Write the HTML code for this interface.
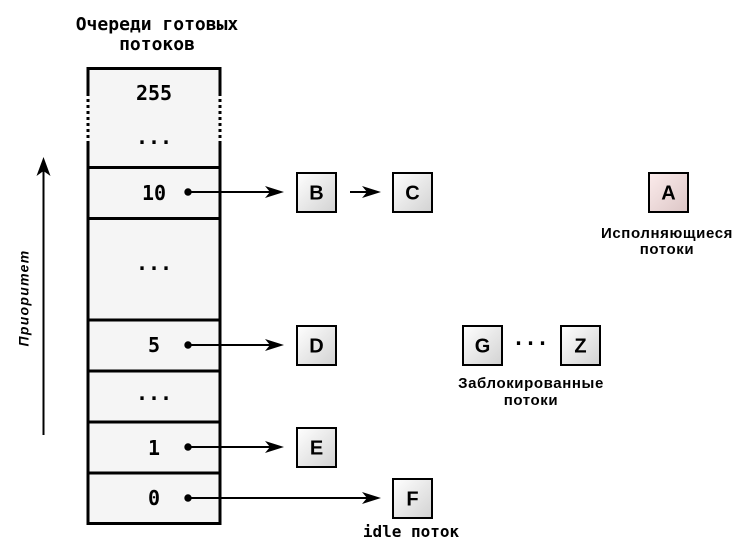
<!DOCTYPE html>
<html><head><meta charset="utf-8"><style>
html,body{margin:0;padding:0;background:#fff;}
svg{display:block;}
.mono{font-family:"DejaVu Sans Mono","Liberation Mono",monospace;font-weight:bold;}
.sans{font-family:"Liberation Sans","DejaVu Sans",sans-serif;}
</style></head><body>
<svg width="752" height="555" viewBox="0 0 752 555" xmlns="http://www.w3.org/2000/svg">
<defs>
<linearGradient id="g" x1="0" y1="0" x2="1" y2="1">
<stop offset="0" stop-color="#ffffff"/><stop offset="1" stop-color="#d2d2d2"/>
</linearGradient>
<linearGradient id="gp" x1="0" y1="0" x2="1" y2="1">
<stop offset="0" stop-color="#fcecec"/><stop offset="1" stop-color="#dcc6c6"/>
</linearGradient>
</defs>

<!-- title -->
<text class="mono" x="157" y="30" font-size="18" text-anchor="middle">Очереди готовых</text>
<text class="mono" x="157" y="50" font-size="18" text-anchor="middle">потоков</text>

<!-- column -->
<rect x="88" y="68.5" width="132" height="455" fill="#f5f5f5"/>
<g stroke="#000" stroke-width="3" fill="none">
<line x1="86.5" y1="68.5" x2="221.5" y2="68.5"/>
<line x1="86.5" y1="523.5" x2="221.5" y2="523.5"/>
<line x1="88" y1="67" x2="88" y2="93"/>
<line x1="88" y1="93" x2="88" y2="141" stroke-dasharray="3,3"/>
<line x1="88" y1="141" x2="88" y2="525"/>
<line x1="220" y1="67" x2="220" y2="93"/>
<line x1="220" y1="93" x2="220" y2="141" stroke-dasharray="3,3"/>
<line x1="220" y1="141" x2="220" y2="525"/>
<line x1="88" y1="167.5" x2="220" y2="167.5"/>
<line x1="88" y1="218.5" x2="220" y2="218.5"/>
<line x1="88" y1="320" x2="220" y2="320"/>
<line x1="88" y1="371" x2="220" y2="371"/>
<line x1="88" y1="422" x2="220" y2="422"/>
<line x1="88" y1="473" x2="220" y2="473"/>
</g>
<g class="mono" font-size="20" text-anchor="middle">
<text x="154" y="100">255</text>
<text x="154" y="144">...</text>
<text x="154" y="200">10</text>
<text x="154" y="270">...</text>
<text x="154" y="352">5</text>
<text x="154" y="400">...</text>
<text x="154" y="455">1</text>
<text x="154" y="505">0</text>
</g>

<!-- connectors -->
<g fill="#000">
<circle cx="188" cy="192" r="3.7"/>
<circle cx="188" cy="345" r="3.7"/>
<circle cx="188" cy="447" r="3.7"/>
<circle cx="188" cy="498" r="3.7"/>
</g>
<g stroke="#000" stroke-width="2">
<line x1="188" y1="192" x2="272" y2="192"/>
<line x1="188" y1="345" x2="272" y2="345"/>
<line x1="188" y1="447" x2="272" y2="447"/>
<line x1="188" y1="498" x2="369" y2="498"/>
<line x1="350" y1="192" x2="369" y2="192"/>
<line x1="43.5" y1="435" x2="43.5" y2="168"/>
</g>
<g fill="#000">
<path d="M284,192 L265,186 L270,192 L265,198 Z"/>
<path d="M284,345 L265,339 L270,345 L265,351 Z"/>
<path d="M284,447 L265,441 L270,447 L265,453 Z"/>
<path d="M381,498 L362,492 L367,498 L362,504 Z"/>
<path d="M381,192 L362,186 L367,192 L362,198 Z"/>
<path d="M43.5,157 L36.5,176 L43.5,171 L50.5,176 Z"/>
</g>

<!-- boxes -->
<g stroke="#000" stroke-width="2">
<rect x="297" y="173" width="39" height="39" fill="url(#g)"/>
<rect x="393" y="173" width="39" height="39" fill="url(#g)"/>
<rect x="649" y="173" width="39" height="39" fill="url(#gp)"/>
<rect x="297" y="326" width="39" height="39" fill="url(#g)"/>
<rect x="463" y="326" width="39" height="39" fill="url(#g)"/>
<rect x="561" y="326" width="39" height="39" fill="url(#g)"/>
<rect x="297" y="428" width="39" height="39" fill="url(#g)"/>
<rect x="393" y="479" width="39" height="39" fill="url(#g)"/>
</g>
<g class="sans" font-size="20" font-weight="bold" text-anchor="middle">
<text x="316.5" y="199.5">B</text>
<text x="412.5" y="199.5">C</text>
<text x="668.5" y="199.5">A</text>
<text x="316.5" y="352.5">D</text>
<text x="482.5" y="352.5">G</text>
<text x="580.5" y="352.5">Z</text>
<text x="316.5" y="454.5">E</text>
<text x="412.5" y="505.5">F</text>
</g>
<text class="mono" x="530.5" y="345" font-size="20" text-anchor="middle">...</text>

<!-- labels -->
<g class="sans" font-size="15" font-weight="bold" text-anchor="middle" letter-spacing="0.6">
<text x="667" y="238">Исполняющиеся</text>
<text x="667" y="254">потоки</text>
<text x="531" y="388">Заблокированные</text>
<text x="531" y="405">потоки</text>
</g>
<text class="mono" x="411" y="537" font-size="16" text-anchor="middle">idle поток</text>
<text class="sans" x="0" y="0" font-size="14" font-weight="bold" font-style="italic" letter-spacing="1.3" text-anchor="middle" transform="translate(28.5,298) rotate(-90)">Приоритет</text>
</svg>
</body></html>
